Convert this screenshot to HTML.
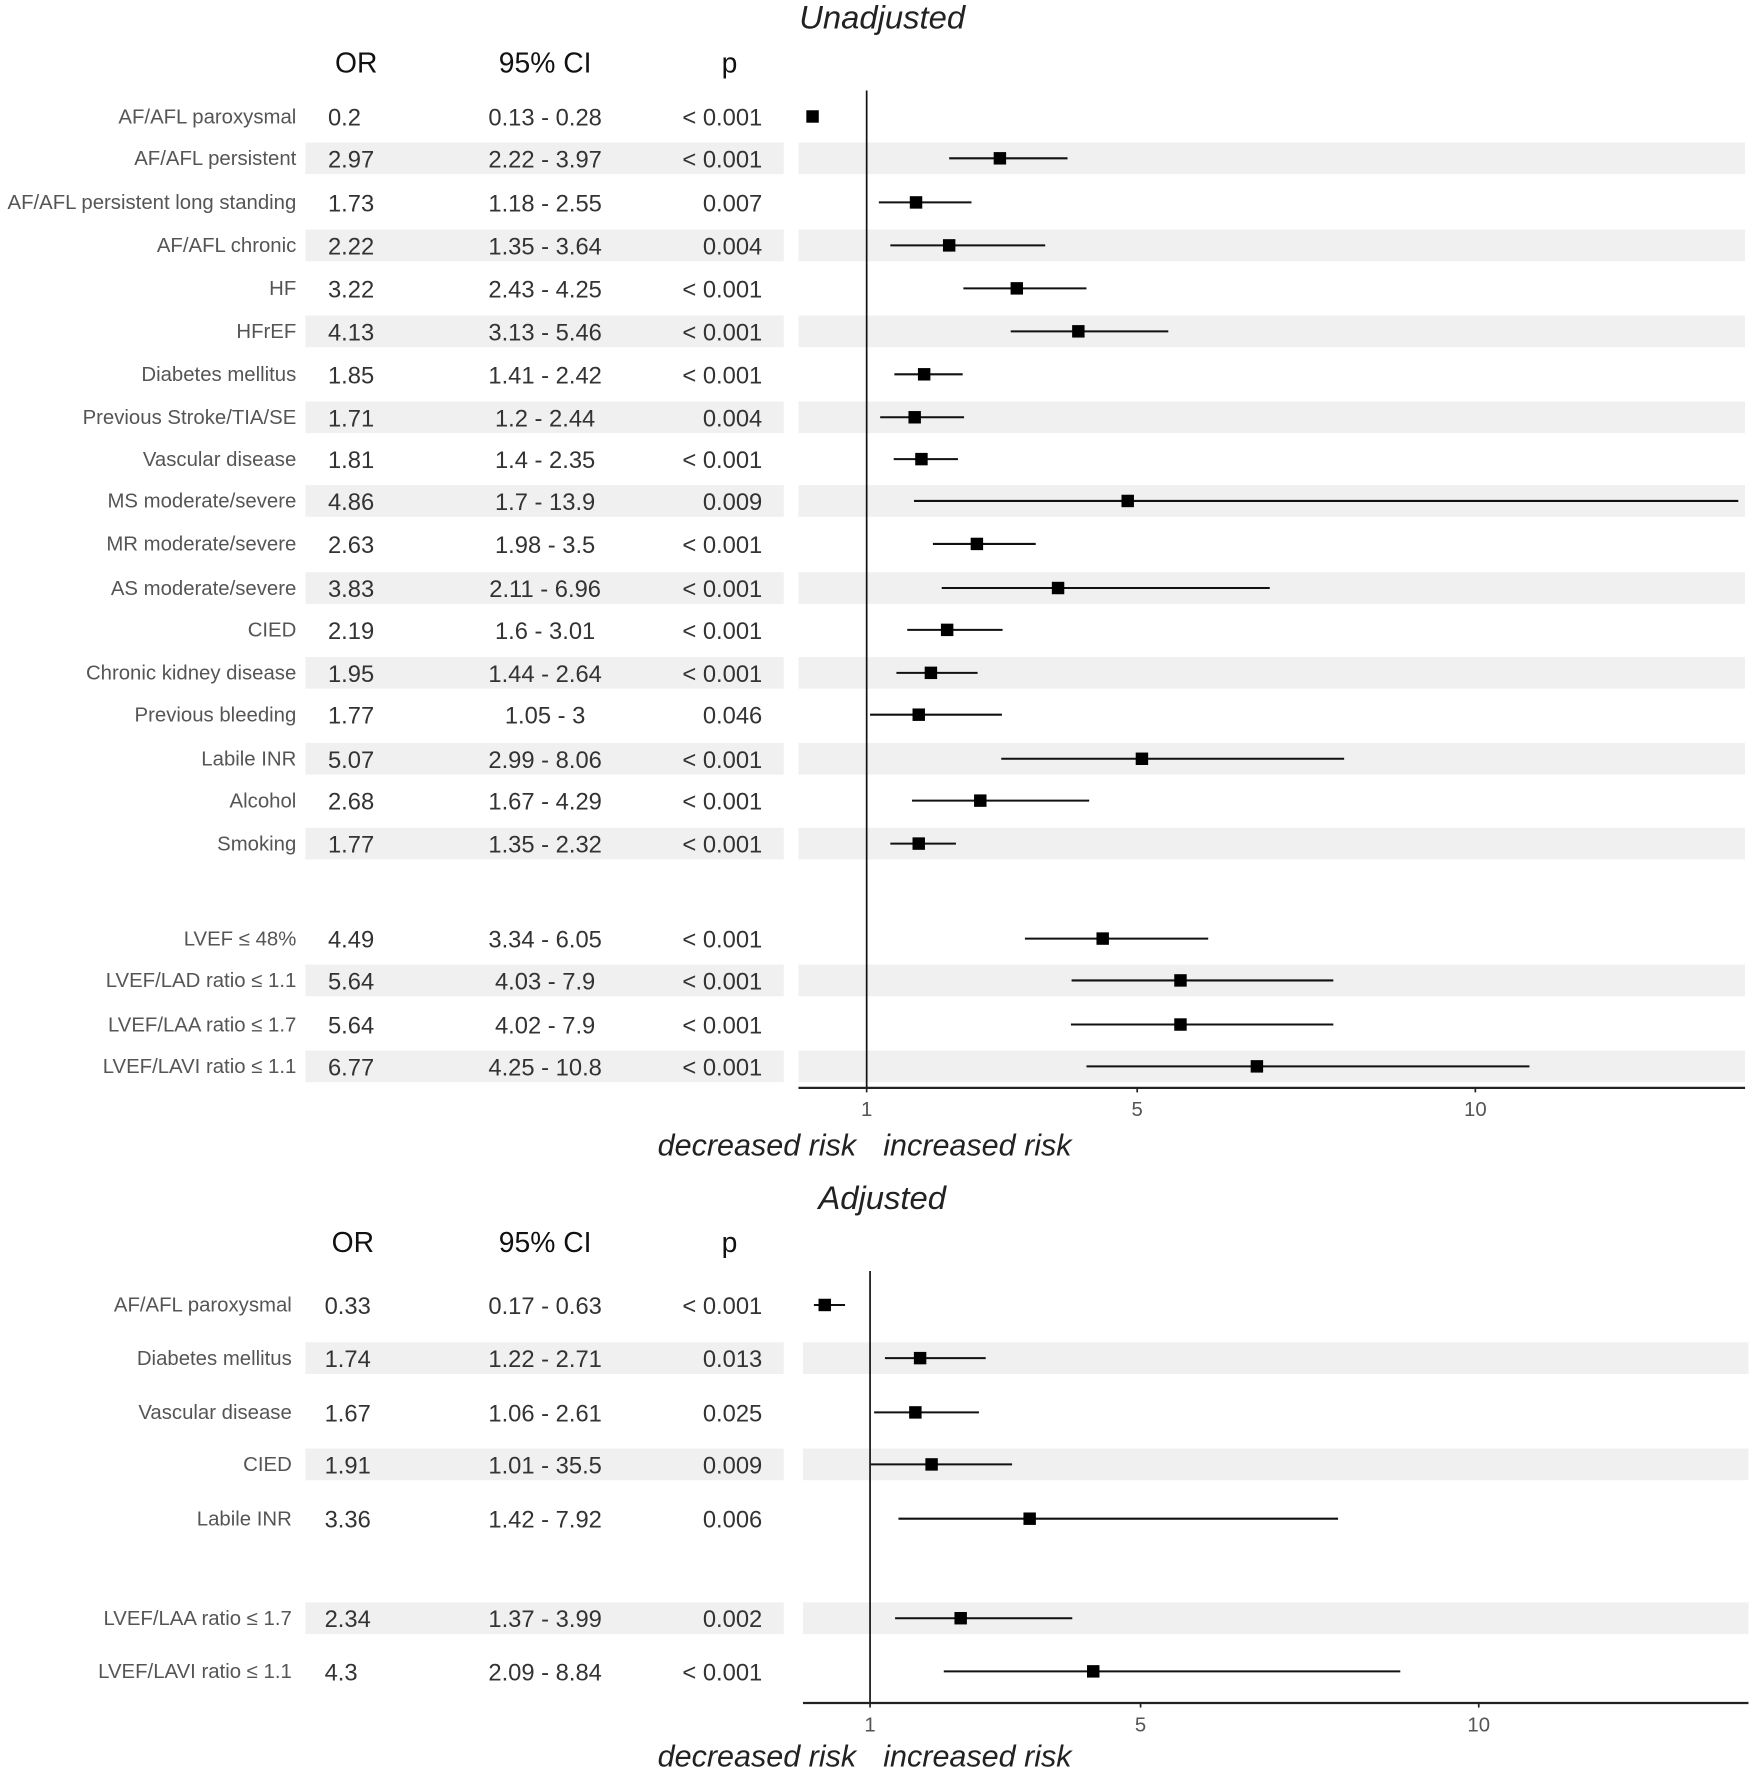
<!DOCTYPE html>
<html><head><meta charset="utf-8"><style>
html,body{margin:0;padding:0;background:#fff;}
svg{display:block;font-family:"Liberation Sans",Arial,sans-serif;}
</style></head><body>
<svg id="chart" width="1753" height="1772" viewBox="0 0 1550 1567" preserveAspectRatio="none" xmlns="http://www.w3.org/2000/svg"></svg>
<script>
const topLabels=["AF/AFL paroxysmal","AF/AFL persistent","AF/AFL persistent long standing","AF/AFL chronic","HF","HFrEF","Diabetes mellitus","Previous Stroke/TIA/SE","Vascular disease","MS moderate/severe","MR moderate/severe","AS moderate/severe","CIED","Chronic kidney disease","Previous bleeding","Labile INR","Alcohol","Smoking","LVEF \u2264 48%","LVEF/LAD ratio \u2264 1.1","LVEF/LAA ratio \u2264 1.7","LVEF/LAVI ratio \u2264 1.1"];
const topOR=[0.2,2.97,1.73,2.22,3.22,4.13,1.85,1.71,1.81,4.86,2.63,3.83,2.19,1.95,1.77,5.07,2.68,1.77,4.49,5.64,5.64,6.77];
const topLo=[0.13,2.22,1.18,1.35,2.43,3.13,1.41,1.2,1.4,1.7,1.98,2.11,1.6,1.44,1.05,2.99,1.67,1.35,3.34,4.03,4.02,4.25];
const topHi=[0.28,3.97,2.55,3.64,4.25,5.46,2.42,2.44,2.35,13.9,3.5,6.96,3.01,2.64,3,8.06,4.29,2.32,6.05,7.9,7.9,10.8];
const topHiText=["0.28","3.97","2.55","3.64","4.25","5.46","2.42","2.44","2.35","13.9","3.5","6.96","3.01","2.64","3","8.06","4.29","2.32","6.05","7.9","7.9","10.8"];
const topP=["< 0.001","< 0.001","0.007","0.004","< 0.001","< 0.001","< 0.001","0.004","< 0.001","0.009","< 0.001","< 0.001","< 0.001","< 0.001","0.046","< 0.001","< 0.001","< 0.001","< 0.001","< 0.001","< 0.001","< 0.001"];
const topY=[103,140,179,217,255,293,331,369,406,443,481,520,557,595,632,671,708,746,830,867,906,943];
const botLabels=["AF/AFL paroxysmal","Diabetes mellitus","Vascular disease","CIED","Labile INR","LVEF/LAA ratio \u2264 1.7","LVEF/LAVI ratio \u2264 1.1"];
const botOR=[0.33,1.74,1.67,1.91,3.36,2.34,4.3];
const botLo=[0.17,1.22,1.06,1.01,1.42,1.37,2.09];
const botHi=[0.63,2.71,2.61,3.1,7.92,3.99,8.84];
const botHiText=["0.63","2.71","2.61","35.5","7.92","3.99","8.84"];
const botP=["< 0.001","0.013","0.025","0.009","0.006","0.002","< 0.001"];
const botY=[1154,1201,1249,1295,1343,1431,1478];
const ticks=[1,5,10];

const svg=document.getElementById('chart');
const NS="http://www.w3.org/2000/svg";
function mk(tag,attrs,txt){const e=document.createElementNS(NS,tag);for(const k in attrs)e.setAttribute(k,attrs[k]);if(txt!==undefined)e.textContent=txt;svg.appendChild(e);return e;}

function panel(o){
  const x=v=>o.x0+v*59.8;
  const clip=v=>Math.min(x(v),o.axR-6);
  let e=mk('text',{x:780,y:o.titleY,'text-anchor':'middle','font-size':29,'font-style':'italic',fill:'#222'},o.title);
  
  [["OR",o.orX+25],["95% CI",482],["p",645]].forEach(([t,cx])=>{
    const h=mk('text',{x:cx,y:o.headY,'text-anchor':'middle','font-size':25,fill:'#111'},t);
    
    
  });
  o.ys.forEach((y,i)=>{
    if(i%2===1){
      const s1=mk('rect',{x:270,y:y-14,width:423,height:28,fill:'#f0f0f0'});
      
      const s2=mk('rect',{x:o.axL,y:y-14,width:o.axR-o.axL,height:28,fill:'#f0f0f0'});
      
    }
  });
  mk('line',{x1:x(1),x2:x(1),y1:o.vTop,y2:o.axY,stroke:'#111','stroke-width':1.5});
  o.ys.forEach((y,i)=>{
    let t=mk('text',{x:o.labX,y:y+6,'text-anchor':'end','font-size':18,fill:'#555'},o.labels[i]);
    
    t=mk('text',{x:o.orX,y:y+8,'font-size':21,fill:'#333'},String(o.or[i]));
    
    t=mk('text',{x:482,y:y+8,'text-anchor':'middle','font-size':21,fill:'#333'},o.lo[i]+' - '+o.hiText[i]);
    
    t=mk('text',{x:674,y:y+8,'text-anchor':'end','font-size':21,fill:'#333'},o.p[i]);
    
    const l=mk('line',{x1:x(o.lo[i]),x2:clip(o.hi[i]),y1:y,y2:y,stroke:'#111','stroke-width':1.8});
    
    const r=mk('rect',{x:x(o.or[i])-5.5,y:y-5.5,width:11,height:11,fill:'#000'});
    
  });
  const ax=mk('line',{x1:o.axL,x2:o.axR,y1:o.axY,y2:o.axY,stroke:'#222','stroke-width':2});
  
  ticks.forEach(v=>{
    mk('line',{x1:x(v),x2:x(v),y1:o.axY,y2:o.axY+4,stroke:'#222','stroke-width':1.5});
    const t=mk('text',{x:x(v),y:o.axY+25,'text-anchor':'middle','font-size':18,fill:'#555'},String(v));
    
  });
  let d=mk('text',{x:757,y:o.riskY,'text-anchor':'end','font-size':27,'font-style':'italic',fill:'#222'},'decreased risk');
  
  d=mk('text',{x:781,y:o.riskY,'font-size':27,'font-style':'italic',fill:'#222'},'increased risk');
  
}
panel({key:'unadjusted',title:'Unadjusted',titleY:25,headY:64,labels:topLabels,or:topOR,lo:topLo,hi:topHi,hiText:topHiText,p:topP,ys:topY,x0:706.5,axL:706,axR:1543,axY:962,vTop:80,labX:262,orX:290,riskY:1022});
panel({key:'adjusted',title:'Adjusted',titleY:1069,headY:1107,labels:botLabels,or:botOR,lo:botLo,hi:botHi,hiText:botHiText,p:botP,ys:botY,x0:709.5,axL:710,axR:1546,axY:1506,vTop:1124,labX:258,orX:287,riskY:1562});
</script>
</body></html>
